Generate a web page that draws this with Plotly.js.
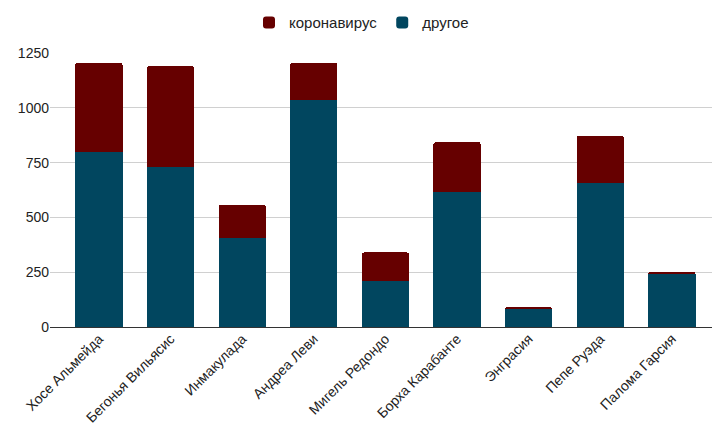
<!DOCTYPE html>
<html>
<head>
<meta charset="utf-8">
<script src="https://cdn.plot.ly/plotly-3.0.1.min.js"></script>
<style>html,body{margin:0;padding:0;background:#fff}#chart{width:713px;height:430px}</style>
</head>
<body>
<div id="chart"></div>
<script>
const categories = ["Хосе Альмейда", "Бегонья Вильясис", "Инмакулада", "Андреа Леви", "Мигель Редондо", "Борха Карабанте", "Энграсия", "Пепе Руэда", "Палома Гарсия"];
const other = [800, 730, 407, 1037, 208, 617, 82, 657, 244];
const coronavirus = [405, 460, 150, 168, 132, 226, 8, 215, 6];
const yTicks = [0, 250, 500, 750, 1000, 1250];

const traces = [
  {type: 'bar', name: 'другое', x: categories, y: other, marker: {color: '#01465f'}},
  {type: 'bar', name: 'коронавирус', x: categories, y: coronavirus, marker: {color: '#660000'}}
];

const layout = {
  width: 713, height: 430,
  margin: {l: 50, r: 1, t: 53, b: 103, autoexpand: false},
  barmode: 'stack',
  bargap: 0.34,
  barcornerradius: 2,
  font: {family: 'Liberation Sans, Arial, sans-serif', size: 14, color: '#222'},
  paper_bgcolor: '#fff', plot_bgcolor: '#fff',
  showlegend: true,
  legend: {orientation: 'h', x: 0.3006, xanchor: 'left', y: 1.11, yanchor: 'middle', traceorder: 'reversed', font: {size: 15, color: '#222'}},
  xaxis: {range: [-0.684, 8.56], tickangle: -45, showgrid: false, ticks: '', tickfont: {size: 14, color: '#222'}, fixedrange: true, automargin: false},
  yaxis: {range: [0, 1250], tickvals: yTicks, ticktext: yTicks.map(String), gridcolor: '#d0d0d0', zeroline: true, zerolinecolor: '#333', zerolinewidth: 1, ticks: '', tickfont: {size: 14, color: '#222'}, fixedrange: true, automargin: false}
};

Plotly.newPlot('chart', traces, layout, {displayModeBar: false, staticPlot: true});
</script>
</body>
</html>
